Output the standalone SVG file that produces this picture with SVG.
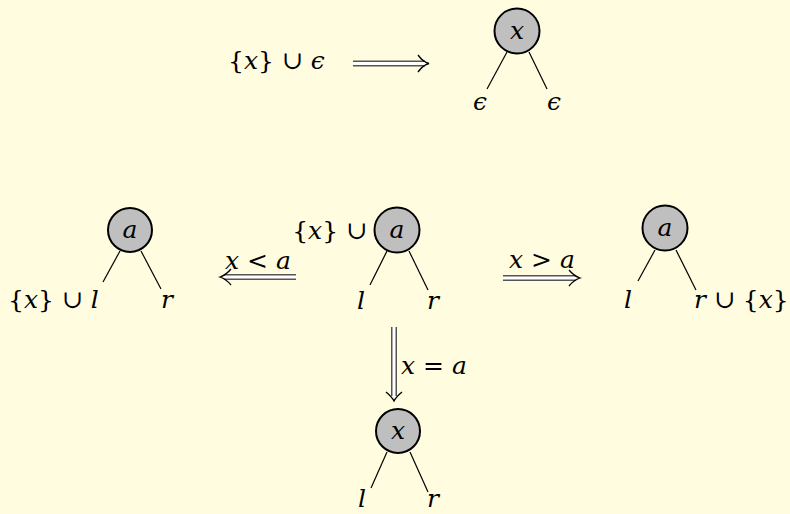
<svg xmlns="http://www.w3.org/2000/svg" width="790" height="514" viewBox="0 0 790 514">
<style>
.bg{fill:#FFFCE0}
.node{fill:#BFBFBF;stroke:#000;stroke-width:2}
.edge{stroke:#000;stroke-width:1.2;fill:none}
text{font-family:"DejaVu Serif",serif;font-size:25px;fill:#000}
.t{font-style:italic}
.tn{font-style:normal}
.dbl-o{stroke:#555;stroke-width:6;fill:none}
.dbl-i{stroke:#fff;stroke-width:3;fill:none}
.head{stroke:#000;stroke-width:1.3;fill:none}
</style>
<rect class="bg" x="0" y="0" width="790" height="514"/>

<g id="connectors">
  <line class="dbl-o" x1="353" y1="63.5" x2="425" y2="63.5"/>
  <line class="dbl-i" x1="353" y1="63.5" x2="426" y2="63.5"/>
  <path class="head" d="M418,55 Q423,62 429,63.5 Q423,65 418,72"/>
  <line class="dbl-o" x1="296" y1="277" x2="224" y2="277"/>
  <line class="dbl-i" x1="296" y1="277" x2="223" y2="277"/>
  <path class="head" d="M231,269 Q226,275 220,277 Q226,279 231,285"/>
  <line class="dbl-o" x1="503" y1="278" x2="576" y2="278"/>
  <line class="dbl-i" x1="503" y1="278" x2="577" y2="278"/>
  <path class="head" d="M569,270 Q574,276 580,278 Q574,280 569,286"/>
  <line class="dbl-o" x1="394" y1="327" x2="394" y2="396"/>
  <line class="dbl-i" x1="394" y1="327" x2="394" y2="397"/>
  <path class="head" d="M386,392 Q392,397 394,401 Q396,397 402,392"/>
  <line class="edge" x1="507" y1="52" x2="487" y2="89"/>
  <line class="edge" x1="529" y1="52" x2="547" y2="89"/>
  <line class="edge" x1="120" y1="251" x2="103" y2="282"/>
  <line class="edge" x1="141" y1="251" x2="161" y2="289"/>
  <line class="edge" x1="387" y1="251" x2="370" y2="285"/>
  <line class="edge" x1="409" y1="251" x2="428" y2="290"/>
  <line class="edge" x1="655" y1="250" x2="638" y2="281"/>
  <line class="edge" x1="676" y1="250" x2="696" y2="290"/>
  <line class="edge" x1="387" y1="452" x2="371" y2="488"/>
  <line class="edge" x1="410" y1="452" x2="428" y2="492"/>
</g>

<g id="label-top"><text class="tn" x="228" y="69">{<tspan class="t">x</tspan>} ∪ <tspan class="t">ϵ</tspan></text></g>
<g id="node-top">
  <circle class="node" cx="517" cy="31" r="22.5"/>
  <text class="t" x="517" y="39" text-anchor="middle">x</text>
  <text class="t" x="480" y="110" text-anchor="middle">ϵ</text>
  <text class="t" x="554" y="110" text-anchor="middle">ϵ</text>
</g>

<g id="node-left">
  <circle class="node" cx="130" cy="230" r="22"/>
  <text class="t" x="130" y="238" text-anchor="middle">a</text>
  <text class="tn" x="8" y="308">{<tspan class="t">x</tspan>} ∪ <tspan class="t">l</tspan></text>
  <text class="t" x="167" y="308" text-anchor="middle">r</text>
</g>
<g id="label-lt"><text class="t" x="258" y="269" text-anchor="middle">x <tspan class="tn">&lt;</tspan> a</text></g>

<g id="node-center">
  <text class="tn" x="367" y="239" text-anchor="end">{<tspan class="t">x</tspan>} ∪</text>
  <circle class="node" cx="397" cy="230" r="22.5"/>
  <text class="t" x="397" y="238" text-anchor="middle">a</text>
  <text class="t" x="361" y="309" text-anchor="middle">l</text>
  <text class="t" x="433" y="309" text-anchor="middle">r</text>
</g>
<g id="label-gt"><text class="t" x="542" y="268" text-anchor="middle">x <tspan class="tn">&gt;</tspan> a</text></g>

<g id="node-right">
  <circle class="node" cx="665" cy="228" r="22.5"/>
  <text class="t" x="665" y="236" text-anchor="middle">a</text>
  <text class="t" x="628" y="308" text-anchor="middle">l</text>
  <text class="tn" x="694" y="308"><tspan class="t">r</tspan> ∪ {<tspan class="t">x</tspan>}</text>
</g>
<g id="label-eq"><text class="t" x="401" y="374">x <tspan class="tn">=</tspan> a</text></g>

<g id="node-bottom">
  <circle class="node" cx="398" cy="431" r="22"/>
  <text class="t" x="398" y="439" text-anchor="middle">x</text>
  <text class="t" x="362" y="507" text-anchor="middle">l</text>
  <text class="t" x="433" y="507" text-anchor="middle">r</text>
</g>
</svg>
